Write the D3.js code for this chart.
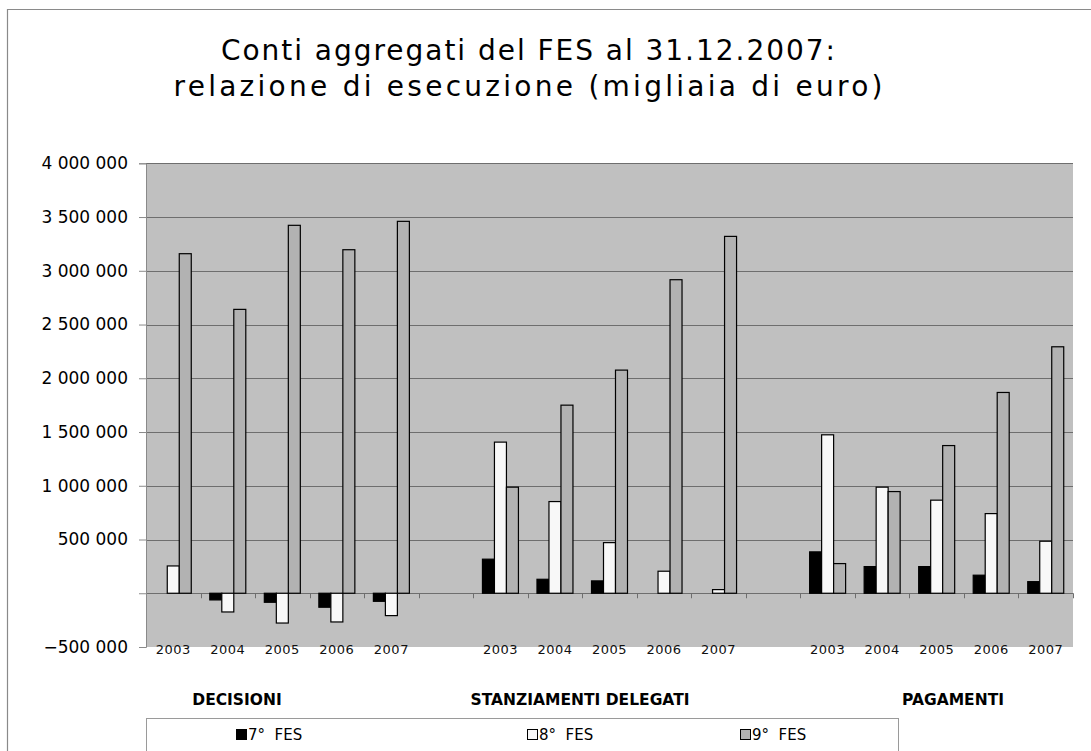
<!DOCTYPE html>
<html><head><meta charset="utf-8">
<script src="https://cdn.jsdelivr.net/npm/d3@7"></script>
<style>body{margin:0;background:#fff}svg{display:block}</style>
</head><body>
<svg id="c" width="1091" height="751"></svg>
<script>
const titleLines = ["Conti aggregati del FES al 31.12.2007:", "relazione di esecuzione (migliaia di euro)"];
const groups = ["DECISIONI", "STANZIAMENTI DELEGATI", "PAGAMENTI"];
const years = ["2003", "2004", "2005", "2006", "2007"];
const seriesNames = ["7° FES", "8° FES", "9° FES"];
// values in thousands of euro, per group then year
const fes7 = [0, -62000, -84000, -130000, -75000,  317000, 130000, 115000, 0, 0,  385000, 248000, 248000, 168000, 108000];
const fes8 = [254000, -174000, -277000, -267000, -208000,  1406000, 853000, 471000, 205000, 34000,  1474000, 987000, 866000, 741000, 484000];
const fes9 = [3159000, 2641000, 3423000, 3196000, 3460000,  987000, 1750000, 2076000, 2917000, 3320000,  276000, 946000, 1374000, 1868000, 2293000];
const yTicks = [-500000, 0, 500000, 1000000, 1500000, 2000000, 2500000, 3000000, 3500000, 4000000];

(function () {
const svg = d3.select("#c");
const W = 1091, H = 751;
const pL = 146, pR = 1073, pT = 163.3, pB = 647;

const slots = [];
groups.forEach((g, gi) => {
  years.forEach((yr, yi) => slots.push({key: g + "|" + yr, year: yr, idx: gi * 5 + yi}));
  if (gi < groups.length - 1) slots.push({key: "gap" + gi, year: "", idx: -1});
});

const x = d3.scaleBand().domain(slots.map(d => d.key)).range([pL, pR]).padding(0);
const bw = x.bandwidth();
const xs = d3.scaleBand().domain(seriesNames).range([bw * 0.17, bw * 0.83]);
const y = d3.scaleLinear().domain([-500000, 4000000]).range([pB, pT]);

const fills = ["#000000", "#f8f8f8", "#b2b2b2"];
const seriesVals = [fes7, fes8, fes9];

svg.append("path").attr("d", `M7.5,${H} V9.5 H${W}`).attr("fill", "none").attr("stroke", "#8a8a8a").attr("stroke-width", 1.2);

const titleWidths = [614, 709];
svg.append("g").selectAll("text").data(titleLines).join("text")
  .attr("x", 528).attr("y", (d, i) => 60 + i * 36)
  .attr("text-anchor", "middle")
  .attr("textLength", (d, i) => titleWidths[i]).attr("lengthAdjust", "spacing")
  .attr("font-family", "DejaVu Sans").attr("font-size", 28).attr("fill", "#000")
  .text(d => d);

svg.append("rect").attr("x", pL).attr("y", pT).attr("width", pR - pL).attr("height", pB - pT).attr("fill", "#c0c0c0");

svg.append("g").selectAll("line").data(yTicks.filter(v => v > -500000)).join("line")
  .attr("x1", pL).attr("x2", pR).attr("y1", d => Math.round(y(d)) + 0.5).attr("y2", d => Math.round(y(d)) + 0.5)
  .attr("stroke", "#6e6e6e").attr("stroke-width", 1);

const fmtLoc = d3.formatLocale({decimal: ",", thousands: " ", grouping: [3], currency: ["", "€"], minus: "\u2212"});
const f = fmtLoc.format(",d");
const yAxis = d3.axisLeft(y).tickValues(yTicks).tickSize(7).tickPadding(11).tickFormat(d => d === 0 ? "" : f(d));
const ya = svg.append("g").attr("transform", `translate(${pL},0)`).call(yAxis);
ya.select(".domain").attr("stroke", "#8a8a8a");
ya.selectAll(".tick line").attr("stroke", "#8a8a8a");
ya.selectAll(".tick text").attr("font-family", "DejaVu Sans").attr("font-size", 17).attr("fill", "#000");

const bounds = slots.map((d, i) => i).slice(1).map(i => x(slots[i].key)).concat([pR]);
svg.append("g").selectAll("line").data(bounds).join("line")
  .attr("x1", d => Math.round(d) + 0.5).attr("x2", d => Math.round(d) + 0.5)
  .attr("y1", y(0)).attr("y2", y(0) + 5).attr("stroke", "#6e6e6e");

const barData = [];
slots.filter(s => s.idx >= 0).forEach(s => {
  seriesNames.forEach((n, si) => {
    const v = seriesVals[si][s.idx];
    if (v !== 0) barData.push({key: s.key, name: n, si, v});
  });
});
svg.append("g").selectAll("rect").data(barData).join("rect")
  .attr("x", d => x(d.key) + xs(d.name))
  .attr("width", xs.bandwidth())
  .attr("y", d => y(Math.max(0, d.v)))
  .attr("height", d => Math.abs(y(d.v) - y(0)))
  .attr("fill", d => fills[d.si]).attr("stroke", "#000").attr("stroke-width", 1.2);

svg.append("g").selectAll("text").data(slots.filter(s => s.year)).join("text")
  .attr("x", d => x(d.key) + bw / 2).attr("y", 653.5)
  .attr("text-anchor", "middle").attr("font-family", "DejaVu Sans").attr("font-size", 13).attr("fill", "#111")
  .attr("letter-spacing", 0.5)
  .text(d => d.year);

const groupX = [237, 580, 953];
svg.append("g").selectAll("text").data(groups).join("text")
  .attr("x", (d, i) => groupX[i]).attr("y", 705)
  .attr("text-anchor", "middle").attr("font-family", "DejaVu Sans").attr("font-weight", "bold").attr("font-size", 15.5).attr("fill", "#000")
  .text(d => d);

svg.append("rect").attr("x", 146.5).attr("y", 718.5).attr("width", 752).attr("height", 60).attr("fill", "#fff").attr("stroke", "#9a9a9a");
const legX = [236, 527, 740];
const lg = svg.append("g").selectAll("g").data(seriesNames).join("g").attr("transform", (d, i) => `translate(${legX[i]},729)`);
lg.append("rect").attr("x", 0.5).attr("y", 0.5).attr("width", 10).attr("height", 10).attr("fill", (d, i) => fills[i]).attr("stroke", "#000");
lg.append("text").attr("x", 12).attr("y", 11).attr("font-family", "DejaVu Sans").attr("font-size", 15).attr("fill", "#000")
  .attr("xml:space", "preserve").text(d => d.replace(" ", "  "));
})();
</script>
</body></html>
